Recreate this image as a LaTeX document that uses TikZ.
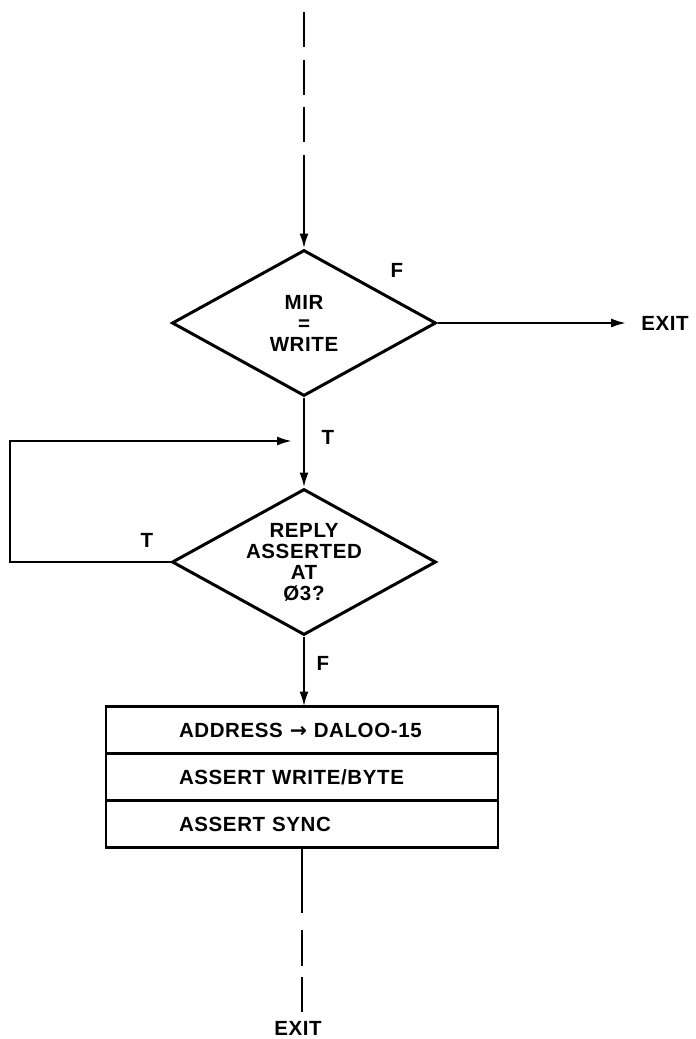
\documentclass[tikz,border=0pt]{standalone}
\usepackage{fontspec}
\setmainfont{Liberation Sans}[LetterSpace=3]
\newfontfamily\symfont{DejaVu Sans}
\usetikzlibrary{arrows.meta,positioning,shapes.geometric}
\begin{document}
\begin{tikzpicture}[x=1pt,y=-1pt,>={Latex[length=15pt,width=9pt]},line width=2.3pt,
  every node/.style={font=\bfseries\fontsize{20.5}{21}\selectfont,align=center},
  test/.style={draw,diamond,aspect=1.8,inner sep=0pt,minimum width=264pt,minimum height=146pt,line width=3pt},
  rowbox/.style={draw,line width=2.6pt,outer sep=0pt,minimum width=392pt,minimum height=47pt,text width=392pt,inner xsep=0pt,align=left,execute at begin node={\hspace*{73pt}}},
  flag/.style={inner sep=0pt}]
\useasboundingbox (0,0) rectangle (696,1039);
\node[test] (mir) at (304,323) {MIR\\=\\WRITE};
\node[test,below=90pt of mir] (reply) {REPLY\\ASSERTED\\AT\\Ø3?};
\node[rowbox,below=70pt of reply,xshift=-2pt] (addr) {ADDRESS {\symfont\bfseries →} DALOO-15};
\node[rowbox,below=0pt of addr] (wrbyte) {ASSERT WRITE/BYTE};
\node[rowbox,below=0pt of wrbyte] (sync) {ASSERT SYNC};
\node[inner sep=0pt] (exitR) at (665,323) {EXIT};
\node[inner sep=0pt] (exitB) at (298,1028) {EXIT};
\node[flag] (fmir) at (397,270) {F};
\node[flag] (tmir) at (328,437) {T};
\node[flag] (treply) at (147,540) {T};
\node[flag] (freply) at (323,663) {F};
% entry and exits
\coordinate (topend) at (304,12);
\coordinate (topsolid) at (304,156);
\coordinate (loopin) at (292,441);
\coordinate (loopleft) at (10,441);
\coordinate (botsolid) at (302,913);
\coordinate (botdash) at (302,930);
\coordinate (botend) at (302,1012);
\draw[dash pattern=on 35pt off 12.5pt] (topend) -- (topsolid);
\draw[->] (topsolid) -- (mir.north);
\draw[->] (mir.east) -- ([xshift=-14pt]exitR.west);
\draw[->] (mir.south) -- (reply.north);
\draw[->] (reply.west) -| (loopleft) -- (loopin);
\draw[->] (reply.south) -- (reply.south |- addr.north);
\draw (sync.south) -- (botsolid);
\draw[dash pattern=on 36pt off 11pt] (botdash) -- (botend);
\end{tikzpicture}
\end{document}
